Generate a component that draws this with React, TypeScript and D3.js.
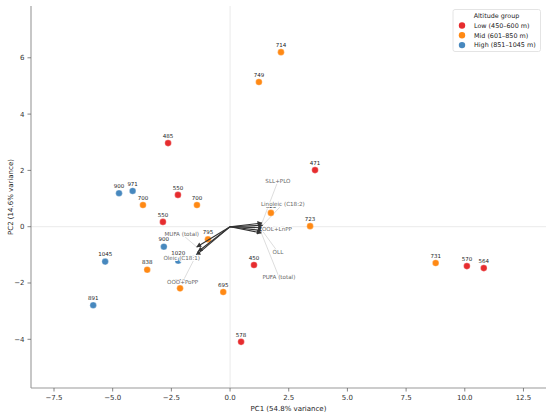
import React from 'react';
import * as d3 from 'd3';

const groups = ['Low (450–600 m)', 'Mid (601–850 m)', 'High (851–1045 m)'];
const groupColors = ['#e41a1c', '#ff7f00', '#377eb8'];

const pointLabels = ['485', '471', '550', '550', '450', '578', '570', '564',
  '714', '749', '700', '700', '620', '723', '795', '838', '650', '695', '731',
  '900', '971', '900', '1045', '891', '1020'];
const pointGroup = [0, 0, 0, 0, 0, 0, 0, 0,
  1, 1, 1, 1, 1, 1, 1, 1, 1, 1, 1,
  2, 2, 2, 2, 2, 2];
const pc1 = [-2.64, 3.62, -2.22, -2.86, 1.02, 0.47, 10.09, 10.81,
  2.17, 1.23, -3.71, -1.41, 1.74, 3.41, -0.94, -3.53, -2.13, -0.29, 8.76,
  -4.73, -4.15, -2.82, -5.32, -5.83, -2.21];
const pc2 = [2.97, 2.01, 1.13, 0.17, -1.36, -4.09, -1.40, -1.47,
  6.20, 5.14, 0.77, 0.77, 0.49, 0.02, -0.45, -1.53, -2.19, -2.32, -1.29,
  1.19, 1.27, -0.71, -1.24, -2.79, -1.21];

const loadingNames = ['SLL+PLO', 'Linoleic (C18:2)', 'OOL+LnPP', 'OLL', 'PUFA (total)',
  'MUFA (total)', 'Oleic (C18:1)', 'OOO+PoPP'];
const loadingX = [1.36, 1.39, 1.41, 1.37, 1.33, -1.42, -1.45, -1.36];
const loadingY = [0.13, 0.05, -0.04, -0.14, -0.22, -0.72, -1.02, -0.88];
const loadingLabelX = [2.04, 2.25, 2.0, 2.04, 2.08, -2.06, -2.06, -2.02];
const loadingLabelY = [1.62, 0.81, -0.08, -0.9, -1.78, -0.26, -1.11, -1.96];

const xTicks = [-7.5, -5, -2.5, 0, 2.5, 5, 7.5, 10, 12.5];
const yTicks = [-4, -2, 0, 2, 4, 6];

const W = 550;
const H = 414;
const FONT = 'DejaVu Sans, sans-serif';

export default function App() {
  const x = d3.scaleLinear().domain([-8.48, 13.46]).range([31, 546]);
  const y = d3.scaleLinear().domain([-5.73, 7.84]).range([388, 6]);
  const fx = d3.format('.1f');
  const fy = d3.format('d');
  const x0 = x(0);
  const y0 = y(0);

  return (
    <div style={{ position: 'fixed', left: 0, top: 0 }}>
      <svg width={W} height={H} style={{ display: 'block', background: '#fff' }} fontFamily={FONT}>
        <defs>
          <marker id="ah" viewBox="0 0 10 10" refX="9" refY="5" markerWidth="6" markerHeight="5"
            markerUnits="userSpaceOnUse" orient="auto">
            <path d="M0,0 L10,5 L0,10 Z" fill="#333" />
          </marker>
        </defs>
        {/* zero lines */}
        <line x1={x(-8.48)} x2={x(13.46)} y1={y0} y2={y0} stroke="#e3e3e3" strokeWidth={0.8} />
        <line x1={x0} x2={x0} y1={y(7.84)} y2={y(-5.73)} stroke="#e3e3e3" strokeWidth={0.8} />

        {/* leader lines */}
        {loadingNames.map((n, i) => (
          <line key={'ll' + i} x1={x(loadingX[i])} y1={y(loadingY[i])}
            x2={x(loadingLabelX[i])} y2={y(loadingLabelY[i])} stroke="#cfcfcf" strokeWidth={0.7} />
        ))}

        {/* points */}
        {pc1.map((v, i) => (
          <circle key={'p' + i} cx={x(v)} cy={y(pc2[i])} r={3.3} fill={groupColors[pointGroup[i]]}
            fillOpacity={0.92} stroke="#fff" strokeWidth={0.3} />
        ))}
        {pc1.map((v, i) => (
          <text key={'pl' + i} x={x(v)} y={y(pc2[i]) - 5.3} textAnchor="middle" fontSize={5.5}
            fill="#222" stroke="#fff" strokeWidth={1.2} strokeOpacity={0.8} paintOrder="stroke">
            {pointLabels[i]}
          </text>
        ))}

        {/* arrows */}
        {loadingNames.map((n, i) => (
          <line key={'a' + i} x1={x0} y1={y0} x2={x(loadingX[i])} y2={y(loadingY[i])}
            stroke="#333" strokeWidth={1.1} markerEnd="url(#ah)" />
        ))}

        {/* loading labels */}
        {loadingNames.map((n, i) => (
          <text key={'lt' + i} x={x(loadingLabelX[i])} y={y(loadingLabelY[i])} dy="0.35em"
            textAnchor="middle" fontSize={5.6} fill="#666" stroke="#fff" strokeWidth={2}
            paintOrder="stroke">
            {n}
          </text>
        ))}

        {/* axes */}
        <line x1={31} x2={31} y1={6} y2={388} stroke="#999" strokeWidth={1.1} />
        <line x1={31} x2={546} y1={388} y2={388} stroke="#999" strokeWidth={1.1} />
        {xTicks.map((t) => (
          <g key={'xt' + t}>
            <line x1={x(t)} x2={x(t)} y1={388} y2={391.5} stroke="#666" strokeWidth={0.8} />
            <text x={x(t)} y={398} dy="0.35em" textAnchor="middle" fontSize={7} fill="#333">
              {fx(t)}
            </text>
          </g>
        ))}
        {yTicks.map((t) => (
          <g key={'yt' + t}>
            <line x1={27.5} x2={31} y1={y(t)} y2={y(t)} stroke="#666" strokeWidth={0.8} />
            <text x={24.5} y={y(t)} dy="0.35em" textAnchor="end" fontSize={7} fill="#333">
              {fy(t)}
            </text>
          </g>
        ))}
        <text x={(31 + 546) / 2} y={409} dy="0.35em" textAnchor="middle" fontSize={7} fill="#222">
          PC1 (54.8% variance)
        </text>
        <text transform={`translate(11,${(6 + 388) / 2}) rotate(-90)`} dy="0.35em" textAnchor="middle"
          fontSize={7} fill="#222">
          PC2 (14.6% variance)
        </text>

        {/* legend */}
        <rect x={453} y={9.5} width={87.5} height={42} rx={2} fill="#fff" fillOpacity={0.85}
          stroke="#ddd" strokeWidth={0.8} />
        <text x={496.5} y={15.5} dy="0.35em" textAnchor="middle" fontSize={6.4} fill="#222">
          Altitude group
        </text>
        {groups.map((g, i) => (
          <g key={'lg' + i}>
            <circle cx={462} cy={25.5 + i * 9.8} r={3.2} fill={groupColors[i]} fillOpacity={0.92} />
            <text x={474} y={25.5 + i * 9.8} dy="0.35em" fontSize={6.4} fill="#222">{g}</text>
          </g>
        ))}
      </svg>
    </div>
  );
}
